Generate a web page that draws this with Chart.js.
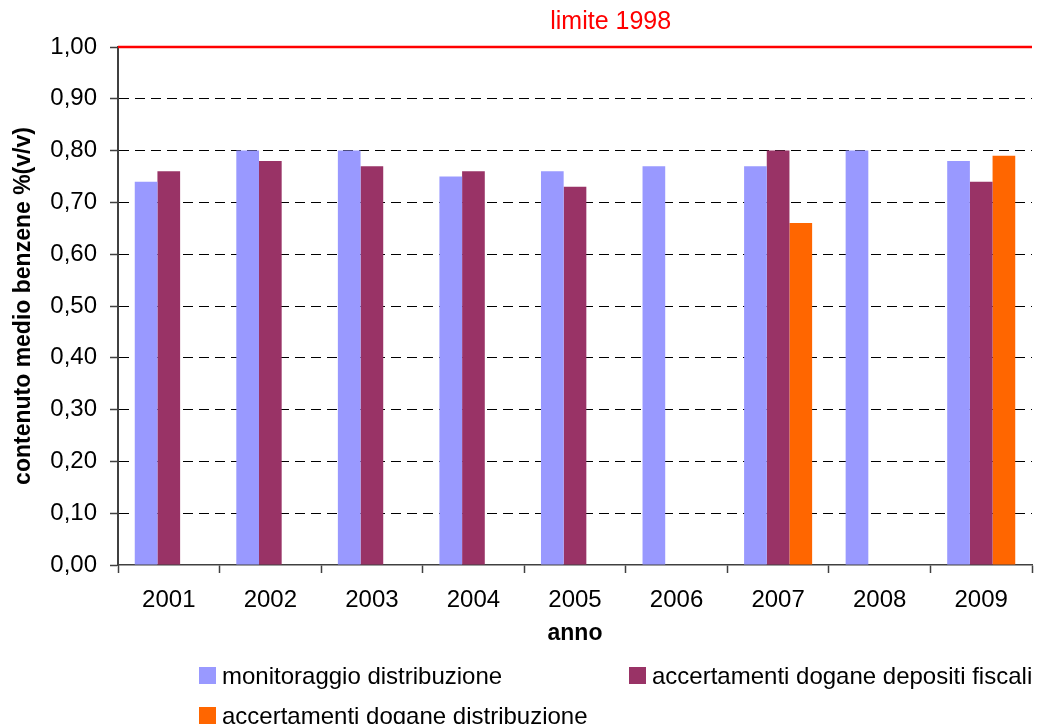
<!DOCTYPE html>
<html>
<head>
<meta charset="utf-8">
<script src="https://cdn.jsdelivr.net/npm/chart.js@4/dist/chart.umd.min.js"></script>
<style>
  html, body { margin: 0; padding: 0; background: #fff; }
  #wrap { position: relative; width: 1050px; height: 724px; overflow: hidden; }
  canvas { display: block; }
  .lg { position: absolute; display: flex; align-items: center; height: 17px;
        font: 24px "Liberation Sans", Arial, sans-serif; color: #000; white-space: nowrap; }
  .lg i { display: inline-block; width: 17px; height: 17px; margin-right: 6px; flex: none; }
</style>
</head>
<body>
<div id="wrap">
  <canvas id="c" width="1050" height="724"></canvas>
  <div id="legend"></div>
</div>
<script>
// benzene average content by year, three measurement sources
const years = ['2001', '2002', '2003', '2004', '2005', '2006', '2007', '2008', '2009'];
const monitoraggio = [0.74, 0.80, 0.80, 0.75, 0.76, 0.77, 0.77, 0.80, 0.78];
const depositiFiscali = [0.76, 0.78, 0.77, 0.76, 0.73, null, 0.80, null, 0.74];
const doganeDistribuzione = [null, null, null, null, null, null, 0.66, null, 0.79];
const seriesNames = ['monitoraggio distribuzione', 'accertamenti dogane depositi fiscali', 'accertamenti dogane distribuzione'];
const seriesColors = ['#9999ff', '#993366', '#ff6600'];
const yTicks = [0, 0.1, 0.2, 0.3, 0.4, 0.5, 0.6, 0.7, 0.8, 0.9, 1.0];
const limitValue = 1.0;
const limitLabel = 'limite 1998';

const FONT = '"Liberation Sans", Arial, sans-serif';
const fmt = (v) => v.toFixed(2).replace('.', ',');

const limitLine = {
  id: 'limitLine',
  afterDraw(chart) {
    const { ctx, chartArea: a, scales: { y } } = chart;
    const py = y.getPixelForValue(limitValue);
    ctx.save();
    ctx.strokeStyle = '#ff0000';
    ctx.lineWidth = 2.5;
    ctx.beginPath();
    ctx.moveTo(a.left, py);
    ctx.lineTo(a.right, py);
    ctx.stroke();
    ctx.fillStyle = '#ff0000';
    ctx.font = `25px ${FONT}`;
    ctx.textAlign = 'center';
    ctx.textBaseline = 'middle';
    ctx.fillText(limitLabel, a.left + (a.right - a.left) * 0.539, py - 25);
    ctx.restore();
  },
};

const datasets = [monitoraggio, depositiFiscali, doganeDistribuzione].map((d, i) => ({
  label: seriesNames[i],
  data: d,
  backgroundColor: seriesColors[i],
  borderWidth: 0,
  categoryPercentage: 0.67,
  barPercentage: 1.0,
}));

new Chart(document.getElementById('c'), {
  type: 'bar',
  data: { labels: years, datasets },
  options: {
    responsive: false,
    animation: false,
    devicePixelRatio: 1,
    layout: { padding: { left: 0, top: 47, right: 18, bottom: 77 } },
    plugins: { legend: { display: false }, tooltip: { enabled: false } },
    scales: {
      x: {
        grid: { display: true, drawOnChartArea: false, offset: true, tickLength: 8, tickColor: '#404040', tickWidth: 1.5 },
        border: { color: '#404040', width: 1.5 },
        ticks: { color: '#000', padding: 13, font: { family: FONT, size: 24 } },
        title: { display: true, text: 'anno', color: '#000', padding: 0, font: { family: FONT, size: 23, weight: 'bold' } },
        afterFit: (s) => { s.height = 82; },
      },
      y: {
        min: 0, max: 1,
        afterBuildTicks: (s) => { s.ticks = yTicks.map((v) => ({ value: v })); },
        grid: {
          color: (ctx) => (ctx.tick && (ctx.tick.value === 0 || ctx.tick.value === limitValue)) ? 'rgba(0,0,0,0)' : '#000',
          lineWidth: 1, tickLength: 8, tickColor: '#404040', tickWidth: 1.5,
        },
        border: { color: '#404040', width: 2, dash: [10, 6] },
        ticks: { color: '#000', padding: 13, font: { family: FONT, size: 24 }, callback: (v) => fmt(v) },
        title: { display: true, text: 'contenuto medio benzene %(v/v)', color: '#000', padding: { top: 10, bottom: 0 }, font: { family: FONT, size: 23, weight: 'bold' } },
        afterFit: (s) => { s.width = 118; },
      },
    },
  },
  plugins: [limitLine],
});

// legend laid out in two columns like the original
const legendPos = [[199, 667], [629, 667], [199, 707]];
document.getElementById('legend').innerHTML = seriesNames.map((n, i) =>
  `<div class="lg" style="left:${legendPos[i][0]}px;top:${legendPos[i][1]}px"><i style="background:${seriesColors[i]}"></i>${n}</div>`
).join('');
</script>
</body>
</html>
